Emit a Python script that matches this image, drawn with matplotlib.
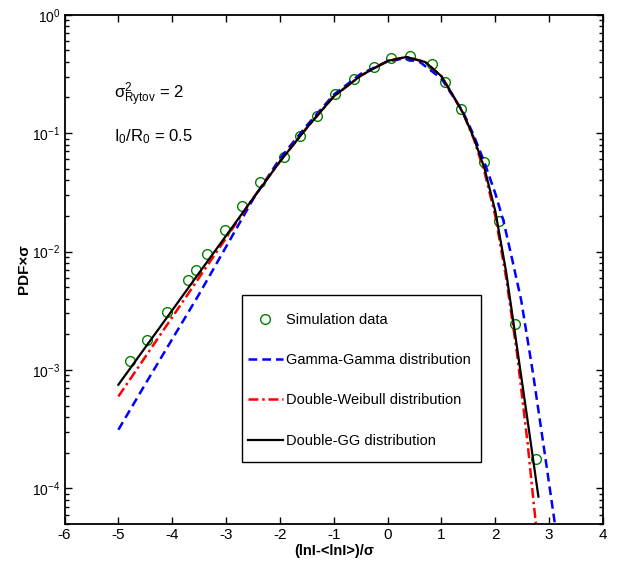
import numpy as np
import matplotlib
matplotlib.use('Agg')
import matplotlib.pyplot as plt
from matplotlib.ticker import LogLocator, NullFormatter
from matplotlib.patches import Rectangle

plt.rcParams['font.family'] = ['Liberation Sans', 'DejaVu Sans']
plt.rcParams['mathtext.fontset'] = 'custom'
plt.rcParams['mathtext.rm'] = 'Liberation Sans'
plt.rcParams['mathtext.it'] = 'Liberation Sans'
plt.rcParams['mathtext.bf'] = 'Liberation Sans:bold'
plt.rcParams['axes.unicode_minus'] = False

# simulation points (x, log10 of PDF*sigma)
sim_x = [-4.785, -4.475, -4.093, -3.703, -3.555, -3.356, -3.017, -2.707, -2.377,
         -1.922, -1.636, -1.315, -0.981, -0.629, -0.245, 0.070, 0.416, 0.831,
         1.059, 1.362, 1.789, 2.067, 2.367, 2.761]
sim_logy = [-2.922, -2.745, -2.511, -2.244, -2.156, -2.021, -1.822, -1.616, -1.413,
            -1.202, -1.024, -0.856, -0.673, -0.546, -0.442, -0.369, -0.346, -0.420,
            -0.566, -0.796, -1.247, -1.742, -2.614, -3.750]

# Gamma-Gamma
gg_x = [-5.0, -4.5, -4.0, -3.5, -3.0, -2.5, -2.0, -1.5, -1.0, -0.5, 0.0, 0.3, 0.6,
        1.0, 1.4, 1.6, 1.8, 2.0, 2.15, 2.3, 2.48, 2.7, 2.9, 3.1, 3.15]
gg_logy = [-3.505, -3.12, -2.74, -2.36, -1.96, -1.56, -1.215, -0.935, -0.675, -0.50,
           -0.395, -0.37, -0.40, -0.54, -0.82, -1.02, -1.25, -1.51, -1.74, -2.04,
           -2.41, -3.03, -3.65, -4.28, -4.45]

# Double-Weibull
dw_x = [-5.0, -4.5, -4.0, -3.5, -3.0, -2.5, -2.0, -1.5, -1.0, -0.5, 0.0, 0.35, 0.7,
        1.0, 1.4, 1.6, 1.8, 2.0, 2.2, 2.4, 2.6, 2.7, 2.76]
dw_logy = [-3.224, -2.89, -2.555, -2.22, -1.886, -1.55, -1.24, -0.955, -0.69, -0.515,
           -0.39, -0.357, -0.40, -0.52, -0.83, -1.05, -1.33, -1.70, -2.22, -2.85,
           -3.62, -4.07, -4.33]

# Double-GG
dgg_x = [-5.0, -4.5, -4.0, -3.5, -3.0, -2.5, -2.0, -1.5, -1.0, -0.5, 0.0, 0.35, 0.7,
         1.0, 1.2, 1.4, 1.6, 1.8, 2.0, 2.2, 2.4, 2.6, 2.8]
dgg_logy = [-3.125, -2.81, -2.496, -2.18, -1.867, -1.552, -1.24, -0.955, -0.69, -0.515,
            -0.39, -0.357, -0.40, -0.52, -0.67, -0.83, -1.04, -1.30, -1.66, -2.17,
            -2.80, -3.43, -4.07]

fig = plt.figure(figsize=(6.22, 5.70), dpi=100)
ax = fig.add_axes([0.1037, 0.0807, 0.8658, 0.8935])

ax.semilogy(sim_x, 10 ** np.array(sim_logy), 'o', mfc='none', mec='#008000', ms=7,
            mew=1.0, label='Simulation data')
ax.semilogy(gg_x, 10 ** np.array(gg_logy), '--', color='#0000ff', lw=1.8,
            dashes=(3.5, 2), label='Gamma-Gamma distribution')
ax.semilogy(dw_x, 10 ** np.array(dw_logy), '-.', color='#ff0000', lw=1.8,
            dashes=(4, 1.5, 1, 1.5), label='Double-Weibull distribution')
ax.semilogy(dgg_x, 10 ** np.array(dgg_logy), '-', color='black', lw=1.6,
            label='Double-GG distribution')

ax.set_xlim(-6, 4)
ax.set_ylim(5e-5, 1)
ax.set_xticks(np.arange(-6, 5, 1))
ax.yaxis.set_major_locator(LogLocator(base=10, numticks=20))
ax.yaxis.set_minor_locator(LogLocator(base=10, subs=np.arange(2, 10), numticks=100))
ax.yaxis.set_minor_formatter(NullFormatter())
ax.tick_params(which='both', direction='in', top=True, right=True, pad=3)
ax.tick_params(axis='x', labelsize=11)
ax.tick_params(axis='y', labelsize=10)
ax.tick_params(which='major', length=5, width=1)
ax.tick_params(which='minor', length=3, width=1)
for s in ax.spines.values():
    s.set_linewidth(1.3)

ax.set_xlabel('(lnI-<lnI>)/σ', fontsize=10.5, fontweight='bold', labelpad=1)
ax.set_ylabel('PDF×σ', fontsize=11, fontweight='bold', labelpad=1)

ax.text(-5.08, 0.195, r'$\sigma^2_{\rm Rytov}$ = 2', fontsize=12)
ax.text(-5.08, 0.085, r'$\mathregular{I_0/R_0}$ = 0.5', fontsize=12)

# legend box drawn separately, entries placed without frame
ax.add_patch(Rectangle((0.330, 0.121), 0.443, 0.329, transform=ax.transAxes,
                       facecolor='white', edgecolor='black', lw=1.0, zorder=4))
leg = ax.legend(loc='upper left', bbox_to_anchor=(0.3408, 0.4150),
                borderaxespad=0, borderpad=0, fontsize=10.5, labelspacing=1.81,
                handlelength=2.37, handletextpad=0.2, frameon=False)
leg.set_zorder(5)

fig.savefig('out.png', dpi=100)
